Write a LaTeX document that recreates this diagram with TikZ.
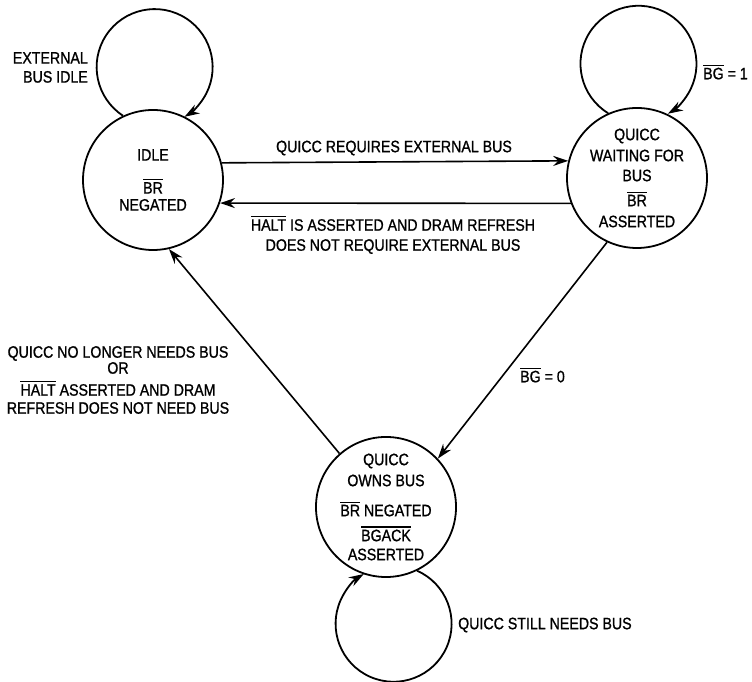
\documentclass[tikz,border=0pt]{standalone}
\usepackage{fontspec}
\setmainfont{Liberation Sans}[FakeStretch=0.86,FakeBold=1]
\usetikzlibrary{arrows.meta}
\newcommand\ovl[1]{\leavevmode\vbox{\hrule height 1.2pt\kern 2pt\hbox{#1}}}
\tikzset{
  state/.style={circle, draw, line width=1.8pt, fill=white, minimum size=140pt, inner sep=0pt, align=center},
  arr/.style={line width=1.6pt, -{Stealth[length=15pt,width=10pt,inset=5pt]}},
  loopline/.style={line width=1.8pt, -{Stealth[length=15pt,width=10pt,inset=5pt]}},
  lbl/.style={inner sep=0pt, align=center}
}
\begin{document}
\begin{tikzpicture}[x=1pt,y=1pt,font=\fontsize{16.5}{18}\selectfont]
\useasboundingbox (0,0) rectangle (752,682);
% states
\node[state] (idle) at (153,502) {IDLE\\[15pt]\ovl{BR}\\[-1pt]NEGATED};
\node[state] (wait) at (637,504) {QUICC\\[3pt]WAITING FOR\\[2pt]BUS\\[7pt]\ovl{BR}\\[3pt]ASSERTED};
\node[state] (own) at (386,175) {QUICC\\[3pt]OWNS BUS\\[12pt]\ovl{BR} NEGATED\\[7pt]\ovl{BGACK}\\[1pt]ASSERTED};
% self loops
\draw[loopline] (idle.115) arc[start angle=237, end angle=-59, radius=58pt];
\draw[loopline] (wait.114.7) arc[start angle=238.5, end angle=-59.5, radius=58pt];
\draw[loopline] (own.-64.2) arc[start angle=66.1, end angle=-239.1, radius=58pt];
% transitions
\draw[arr] (idle.14.9) -- (wait.166.8);
\draw[arr] (wait.-159.1) -- (idle.-19.2);
\draw[arr] (wait.-115.5) -- (own.43.9);
\draw[arr] (own.131.6) -- (idle.-77.9);
% labels
\node[lbl, anchor=east, align=right] (ext) at (88,614.5) {EXTERNAL\\[1pt]BUS IDLE};
\node[lbl, anchor=west] (bg1) at (703,610) {\ovl{BG} = 1};
\node[lbl] (req) at (394,534) {QUICC REQUIRES EXTERNAL BUS};
\node[lbl] (halt) at (393,447) {\ovl{HALT} IS ASSERTED AND DRAM REFRESH\\[2pt]DOES NOT REQUIRE EXTERNAL BUS};
\node[lbl, anchor=west] (bg0) at (520,307) {\ovl{BG} = 0};
\node[lbl] (left) at (118,302) {QUICC NO LONGER NEEDS BUS\\[-2pt]OR\\[4pt]\ovl{HALT} ASSERTED AND DRAM\\REFRESH DOES NOT NEED BUS};
\node[lbl, anchor=west] (still) at (458,57) {QUICC STILL NEEDS BUS};
\end{tikzpicture}
\end{document}
